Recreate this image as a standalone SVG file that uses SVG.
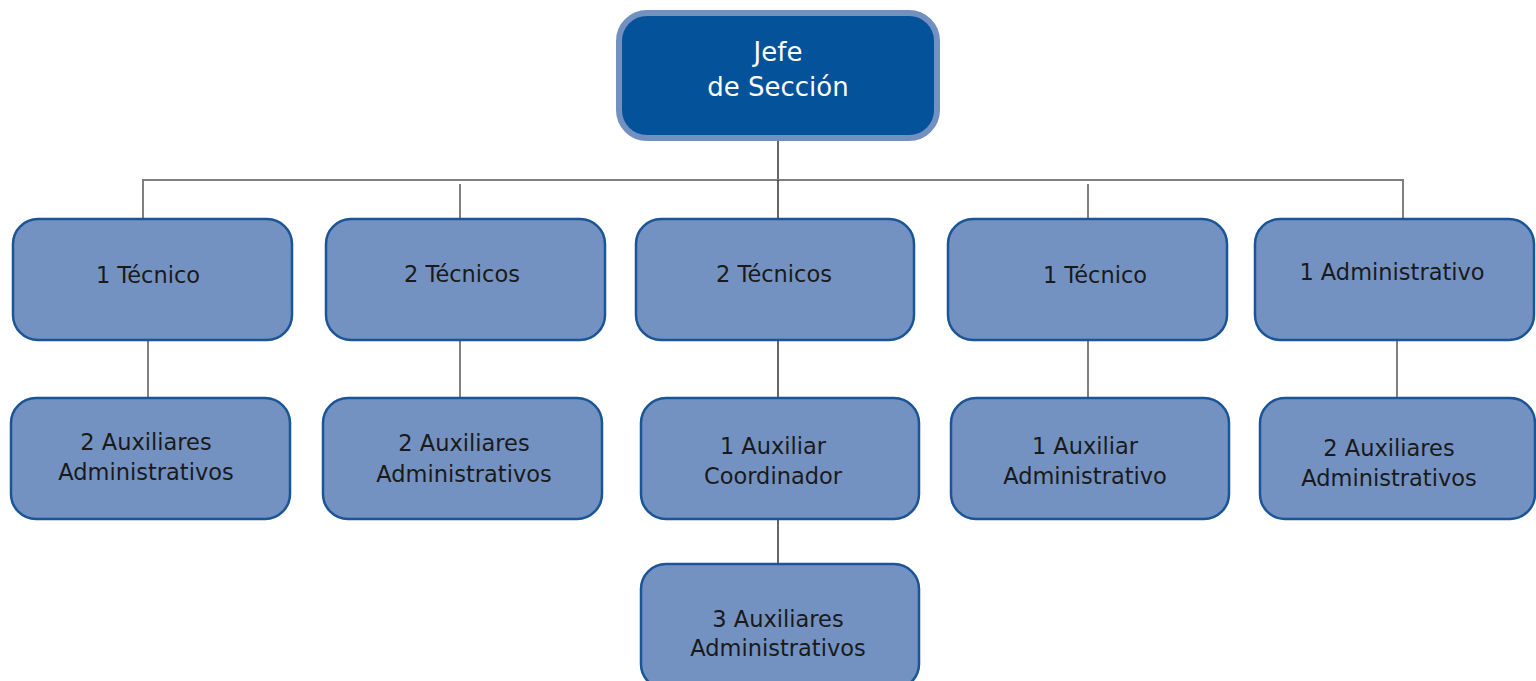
<svg xmlns="http://www.w3.org/2000/svg" width="1536" height="681" viewBox="0 0 1536 681">
<style>
.box{fill:#7492C1;stroke:#1A5597;stroke-width:2.5}
.top{fill:#03529A;stroke:#7290C0;stroke-width:6}
.t{font-family:"DejaVu Sans",sans-serif;font-size:22.5px;fill:#1a1a1a;text-anchor:middle}
.tt{font-family:"DejaVu Sans",sans-serif;font-size:26px;fill:#ffffff;text-anchor:middle}
.c{stroke:#808080;stroke-width:2;fill:none}
.cd{stroke:#333333;stroke-width:1.5;fill:none}
</style>
<g id="connectors">
<path class="cd" d="M778 140V180"/>
<path class="c" d="M143 219V180H1403V219"/>
<path class="c" d="M460 184V219"/>
<path class="cd" d="M778 180V219"/>
<path class="c" d="M1088 184V219"/>
<path class="c" d="M148 340V398"/>
<path class="c" d="M460 340V398"/>
<path class="cd" d="M778 340V398"/>
<path class="cd" d="M778 519V564"/>
<path class="c" d="M1088 340V398"/>
<path class="c" d="M1397 340V398"/>
</g>
<g id="jefe">
<rect class="top" x="619" y="13" width="318" height="125" rx="28"/>
<text class="tt" x="778" y="61">Jefe</text>
<text class="tt" x="778" y="96">de Sección</text>
</g>
<g id="n1"><rect class="box" x="13" y="219" width="279" height="121" rx="25"/><text class="t" x="148" y="283">1 Técnico</text></g>
<g id="n2"><rect class="box" x="326" y="219" width="279" height="121" rx="25"/><text class="t" x="462" y="282">2 Técnicos</text></g>
<g id="n3"><rect class="box" x="636" y="219" width="278" height="121" rx="25"/><text class="t" x="774" y="282">2 Técnicos</text></g>
<g id="n4"><rect class="box" x="948" y="219" width="279" height="121" rx="25"/><text class="t" x="1095" y="283">1 Técnico</text></g>
<g id="n5"><rect class="box" x="1255" y="219" width="279" height="121" rx="25"/><text class="t" x="1392" y="280">1 Administrativo</text></g>
<g id="m1"><rect class="box" x="11" y="398" width="279" height="121" rx="25"/><text class="t" x="146" y="450">2 Auxiliares</text><text class="t" x="146" y="480">Administrativos</text></g>
<g id="m2"><rect class="box" x="323" y="398" width="279" height="121" rx="25"/><text class="t" x="464" y="451">2 Auxiliares</text><text class="t" x="464" y="482">Administrativos</text></g>
<g id="m3"><rect class="box" x="641" y="398" width="278" height="121" rx="25"/><text class="t" x="773" y="454">1 Auxiliar</text><text class="t" x="773" y="484">Coordinador</text></g>
<g id="m4"><rect class="box" x="951" y="398" width="278" height="121" rx="25"/><text class="t" x="1085" y="454">1 Auxiliar</text><text class="t" x="1085" y="484">Administrativo</text></g>
<g id="m5"><rect class="box" x="1260" y="398" width="275" height="121" rx="25"/><text class="t" x="1389" y="456">2 Auxiliares</text><text class="t" x="1389" y="486">Administrativos</text></g>
<g id="b3"><rect class="box" x="641" y="564" width="278" height="125" rx="25"/><text class="t" x="778" y="627">3 Auxiliares</text><text class="t" x="778" y="656">Administrativos</text></g>
</svg>
